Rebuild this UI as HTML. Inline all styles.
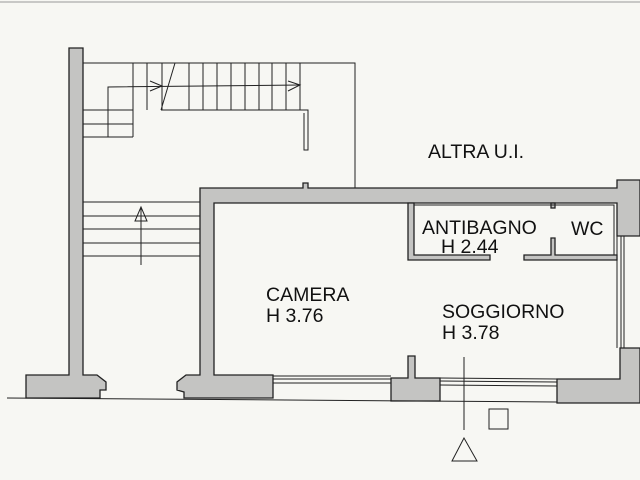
<!DOCTYPE html>
<html><head><meta charset="utf-8"><style>html,body{margin:0;padding:0;background:#f7f7f3}svg{display:block}</style></head><body>
<svg width="640" height="480" viewBox="0 0 640 480" xmlns="http://www.w3.org/2000/svg">
<rect width="640" height="480" fill="#f7f7f3"/>
<line x1="0" y1="2" x2="640" y2="2" stroke="#999" stroke-width="1"/>
<g fill="#c4c4c2" stroke="#222" stroke-width="1.3">
<polygon points="69,48 83,48 83,375 97,375 106,382 106,390 100,390 100,398 26,398 26,375 69,375"/>
<polygon points="200,188 303,188 303,183 308,183 308,188 617,188 617,180 640,180 640,236 617,236 617,203 214,203 214,375 273,375 273,398 184,398 184,392 177,390 177,382 186,375 200,375"/>
<polygon points="408,203 414,203 414,255 490,255 490,260 408,260"/>
<polygon points="524,255 551,255 551,238 555,238 555,255 617,255 617,260 524,260"/>
<rect x="551" y="203" width="4" height="5"/>
<polygon points="408,356 415,356 415,378 440,378 440,401 391,401 391,378 408,378"/>
<polygon points="620,348 640,348 640,403 557,403 557,379 620,379"/>
</g>
<g fill="none" stroke="#222" stroke-width="1">
<polyline points="414,205 614,205 614,255"/>
<line x1="617" y1="236" x2="617" y2="348"/><line x1="621" y1="236" x2="621" y2="348"/><line x1="624" y1="236" x2="624" y2="348"/>
<line x1="273" y1="376" x2="391" y2="376"/><line x1="273" y1="379" x2="391" y2="379"/><line x1="273" y1="383" x2="391" y2="383"/>
<line x1="440" y1="378" x2="557" y2="379"/><line x1="440" y1="381" x2="557" y2="382"/><line x1="440" y1="385" x2="557" y2="386"/>
<line x1="7" y1="398" x2="557" y2="402"/>
<polyline points="83,63 355,63 355,188"/>
<line x1="133" y1="63" x2="133" y2="137"/>
<g>
<line x1="147" y1="63" x2="147" y2="110"/><line x1="162" y1="63" x2="162" y2="110"/>
<line x1="189" y1="63" x2="189" y2="110"/><line x1="203" y1="63" x2="203" y2="110"/><line x1="217" y1="63" x2="217" y2="110"/><line x1="231" y1="63" x2="231" y2="110"/><line x1="245" y1="63" x2="245" y2="110"/><line x1="259" y1="63" x2="259" y2="110"/><line x1="272" y1="63" x2="272" y2="110"/><line x1="286" y1="63" x2="286" y2="110"/><line x1="300" y1="63" x2="300" y2="110"/>
</g>
<line x1="175" y1="63" x2="161" y2="110"/>
<polyline points="108,137 108,87 300,85"/>
<polyline points="150,81 162,86 150,91"/><polyline points="288,81 300,85 288,91"/>
<polyline points="161,110 308,110 308,150 304,150 304,113"/>
<line x1="83" y1="110" x2="133" y2="110"/><line x1="83" y1="124" x2="133" y2="124"/><line x1="83" y1="137" x2="133" y2="137"/>
<line x1="83" y1="202" x2="200" y2="202"/><line x1="83" y1="216" x2="200" y2="216"/><line x1="83" y1="229" x2="200" y2="229"/><line x1="83" y1="243" x2="200" y2="243"/><line x1="83" y1="256" x2="200" y2="256"/>
<line x1="141" y1="265" x2="141" y2="207"/>
<polygon points="141,207 135,221 147,221"/>
<line x1="464" y1="357" x2="464" y2="430"/>
<polygon points="464,438 452,461 477,461"/>
<rect x="489" y="409" width="19" height="20"/>
</g>
<g font-family="Liberation Sans, sans-serif" font-size="19.5" fill="#111">
<text x="428" y="158">ALTRA U.I.</text>
<text x="422" y="234">ANTIBAGNO</text>
<text x="441" y="253">H 2.44</text>
<text x="571" y="235">WC</text>
<text x="266" y="301">CAMERA</text>
<text x="266" y="322">H 3.76</text>
<text x="442" y="318">SOGGIORNO</text>
<text x="442" y="339">H 3.78</text>
</g>
</svg>
</body></html>
